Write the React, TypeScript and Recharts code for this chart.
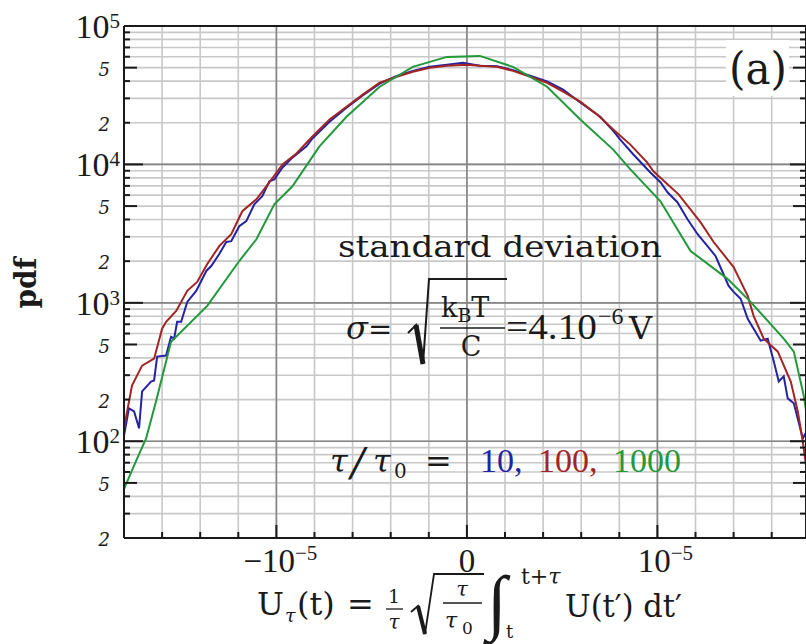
import { LineChart, Line, XAxis, YAxis, CartesianGrid, ReferenceLine } from "recharts";

// pdf of the integrated voltage U_tau for tau/tau0 = 10, 100, 1000
// U in volts, pdf in 1/V

const tau10U = [
  -1.800e-5, -1.774e-5, -1.747e-5, -1.721e-5, -1.705e-5, -1.658e-5, -1.642e-5, -1.626e-5, -1.579e-5,
  -1.553e-5, -1.537e-5, -1.521e-5, -1.500e-5, -1.468e-5, -1.421e-5, -1.368e-5, -1.342e-5, -1.300e-5,
  -1.263e-5, -1.237e-5, -1.195e-5, -1.158e-5, -1.116e-5, -1.074e-5, -1.037e-5, -1.011e-5, -0.968e-5,
  -0.916e-5, -0.842e-5, -0.811e-5, -0.721e-5, -0.632e-5, -0.547e-5, -0.458e-5, -0.368e-5, -0.284e-5,
  -0.195e-5, -0.105e-5, -0.021e-5, 0.068e-5, 0.158e-5, 0.242e-5, 0.332e-5, 0.421e-5, 0.505e-5,
  0.595e-5, 0.700e-5, 0.768e-5, 0.805e-5, 0.874e-5, 0.963e-5, 1.016e-5, 1.053e-5, 1.105e-5,
  1.158e-5, 1.211e-5, 1.263e-5, 1.305e-5, 1.342e-5, 1.374e-5, 1.400e-5, 1.437e-5, 1.474e-5,
  1.505e-5, 1.542e-5, 1.579e-5, 1.611e-5, 1.637e-5, 1.663e-5, 1.684e-5, 1.716e-5, 1.763e-5, 1.784e-5,
];
const tau10Pdf = [
  110, 173, 164, 124, 229, 270, 275, 409, 416,
  569, 551, 730, 730, 1016, 1220, 1700, 1845, 2250,
  2750, 2790, 3580, 3890, 5150, 5890, 7550, 7800, 9510,
  11200, 13500, 15400, 20300, 25700, 31500, 38300, 43600, 47400,
  50800, 52400, 54200, 51600, 51200, 48000, 43700, 39800, 34700,
  28000, 22100, 17500, 15100, 11800, 8750, 7430, 6290, 5330,
  4020, 3130, 2570, 2180, 1670, 1325, 1200, 1070, 767,
  650, 533, 551, 377, 270, 294, 204, 188, 105, 118,
];

const tau100U = [
  -1.805e-5, -1.758e-5, -1.705e-5, -1.642e-5, -1.600e-5, -1.579e-5, -1.526e-5, -1.468e-5, -1.416e-5,
  -1.363e-5, -1.300e-5, -1.237e-5, -1.179e-5, -1.105e-5, -1.037e-5, -0.968e-5, -0.895e-5, -0.811e-5,
  -0.721e-5, -0.632e-5, -0.547e-5, -0.458e-5, -0.368e-5, -0.284e-5, -0.195e-5, -0.105e-5, 0,
  0.068e-5, 0.158e-5, 0.242e-5, 0.332e-5, 0.421e-5, 0.505e-5, 0.595e-5, 0.684e-5, 0.768e-5,
  0.858e-5, 0.947e-5, 0.979e-5, 1.111e-5, 1.226e-5, 1.295e-5, 1.400e-5, 1.474e-5, 1.505e-5,
  1.558e-5, 1.632e-5, 1.700e-5, 1.737e-5, 1.763e-5, 1.784e-5,
];
const tau100Pdf = [
  114, 253, 352, 395, 650, 730, 875, 1220, 1415,
  1910, 2570, 3130, 4590, 5600, 7430, 10000, 12000, 15900,
  21100, 26100, 31900, 38900, 43000, 46700, 49900, 51600, 52400,
  51600, 50700, 47400, 43000, 38900, 33500, 28400, 22900, 17900,
  13900, 10300, 8910, 6080, 3830, 2750, 1815, 1122, 805,
  551, 444, 270, 164, 100, 61,
];

const tau1000U = [
  -1.805e-5, -1.737e-5, -1.684e-5, -1.632e-5, -1.553e-5, -1.363e-5, -1.195e-5, -1.105e-5, -1.011e-5,
  -0.916e-5, -0.774e-5, -0.632e-5, -0.458e-5, -0.284e-5, -0.105e-5, 0.068e-5, 0.242e-5, 0.421e-5,
  0.595e-5, 0.768e-5, 0.858e-5, 1.016e-5, 1.174e-5, 1.368e-5, 1.489e-5, 1.663e-5, 1.716e-5,
  1.768e-5, 1.784e-5,
];
const tau1000Pdf = [
  43.6, 71.8, 105, 194, 524, 951, 2005, 2880, 5150,
  6950, 13500, 22100, 36400, 50700, 59800, 60800, 50700, 36400,
  21100, 12800, 9200, 5420, 2370, 1490, 1016, 551, 444,
  214, 154,
];

const uTicks = [
  -16e-6, -14e-6, -12e-6, -10e-6, -8e-6, -6e-6, -4e-6, -2e-6, 0,
  2e-6, 4e-6, 6e-6, 8e-6, 10e-6, 12e-6, 14e-6, 16e-6,
];
const uMajor = [-10e-6, 0, 10e-6];
const uMajorText = [["−10", "−5"], ["0", ""], ["10", "−5"]];

const pdfTicks = [
  20, 30, 40, 50, 60, 70, 80, 90,
  100, 200, 300, 400, 500, 600, 700, 800, 900,
  1000, 2000, 3000, 4000, 5000, 6000, 7000, 8000, 9000,
  10000, 20000, 30000, 40000, 50000, 60000, 70000, 80000, 90000,
  100000,
];
const pdfDecades = [100, 1000, 10000];

const tau10 = tau10U.map((u, i) => ({ u, pdf: tau10Pdf[i] }));
const tau100 = tau100U.map((u, i) => ({ u, pdf: tau100Pdf[i] }));
const tau1000 = tau1000U.map((u, i) => ({ u, pdf: tau1000Pdf[i] }));

const ink = "#1a1a1a";
const serif = '"DejaVu Serif", serif';
const numFont = '"Liberation Serif", serif';
const blue = "#2323a3";
const red = "#a32424";
const green = "#22993a";

function PdfTick(props: any) {
  const { x, y, payload, side } = props;
  const v = payload.value as number;
  const exp = Math.floor(Math.log10(v) + 1e-9);
  const m = Math.round(v / 10 ** exp);
  const decade = m === 1;
  const dir = side === "left" ? 1 : -1;
  const len = decade ? (side === "left" ? 19 : 16) : m === 5 ? 13 : 6;
  return (
    <g>
      <line x1={x} x2={x + dir * len} y1={y} y2={y} stroke={ink} strokeWidth={2} />
      {side === "left" && decade && (
        <text x={x - 4} y={y + 12} textAnchor="end" fontFamily={numFont} fontSize={34} fill={ink}>
          10<tspan fontSize={21} dy={-10}>{exp}</tspan>
        </text>
      )}
      {side === "left" && (m === 2 || m === 5) && (
        <text x={x - 14} y={y + 8} textAnchor="end" fontFamily={serif} fontStyle="italic" fontSize={18} fill={ink}>
          {m}
        </text>
      )}
    </g>
  );
}

function UTick(props: any) {
  const { x, y, payload, side } = props;
  const v = payload.value as number;
  const k = uMajor.findIndex((m) => Math.abs(m - v) < 1e-9);
  const dir = side === "top" ? 1 : -1;
  const len = k >= 0 ? 13 : 6;
  const [main, sup] = k >= 0 ? uMajorText[k] : ["", ""];
  const shift = v < 0 ? 4 : v > 0 ? 8 : 0;
  return (
    <g>
      <line x1={x} x2={x} y1={y} y2={y + dir * len} stroke={ink} strokeWidth={2} />
      {side === "bottom" && k >= 0 && (
        <text x={x + shift} y={y + 34} textAnchor="middle" fontFamily={numFont} fontSize={33} fill={ink}>
          {main}
          {sup && <tspan fontSize={21} dy={-12}>{sup}</tspan>}
        </text>
      )}
    </g>
  );
}

export default function App() {
  return (
    <div style={{ position: "absolute", left: 0, top: 0, width: 806, height: 644, overflow: "hidden", background: "#fff" }}>
      <LineChart width={820} height={644} margin={{ top: 25, right: 13, bottom: 105, left: 123 }}>
        <CartesianGrid stroke="#c8c8c8" strokeWidth={1.6} />
        <XAxis
          dataKey="u"
          type="number"
          domain={[-1.8e-5, 1.78e-5]}
          allowDataOverflow
          ticks={uTicks}
          interval={0}
          height={1}
          tickSize={0}
          tickMargin={0}
          tickLine={false}
          axisLine={{ stroke: ink, strokeWidth: 2 }}
          tick={(p: any) => <UTick {...p} side="bottom" />}
        />
        <XAxis
          xAxisId="top"
          orientation="top"
          type="number"
          domain={[-1.8e-5, 1.78e-5]}
          allowDataOverflow
          ticks={uTicks}
          interval={0}
          height={1}
          tickSize={0}
          tickMargin={0}
          tickLine={false}
          axisLine={{ stroke: ink, strokeWidth: 2 }}
          tick={(p: any) => <UTick {...p} side="top" />}
        />
        <YAxis
          type="number"
          scale="log"
          domain={[20, 100000]}
          allowDataOverflow
          ticks={pdfTicks}
          interval={0}
          width={1}
          tickSize={0}
          tickMargin={0}
          tickLine={false}
          axisLine={{ stroke: ink, strokeWidth: 2 }}
          tick={(p: any) => <PdfTick {...p} side="left" />}
        />
        <YAxis
          yAxisId="right"
          orientation="right"
          type="number"
          scale="log"
          domain={[20, 100000]}
          allowDataOverflow
          ticks={pdfTicks}
          interval={0}
          width={1}
          tickSize={0}
          tickMargin={0}
          tickLine={false}
          axisLine={{ stroke: ink, strokeWidth: 2 }}
          tick={(p: any) => <PdfTick {...p} side="right" />}
        />
        {pdfDecades.map((d) => (
          <ReferenceLine key={d} y={d} stroke="#858585" strokeWidth={1.6} />
        ))}
        {uMajor.map((u) => (
          <ReferenceLine key={u} x={u} stroke="#858585" strokeWidth={1.6} />
        ))}
        <Line data={tau10} dataKey="pdf" type="linear" stroke={blue} strokeWidth={2} dot={false} isAnimationActive={false} />
        <Line data={tau100} dataKey="pdf" type="linear" stroke={red} strokeWidth={2} dot={false} isAnimationActive={false} />
        <Line data={tau1000} dataKey="pdf" type="linear" stroke={green} strokeWidth={2} dot={false} isAnimationActive={false} />
      </LineChart>

      <svg width={806} height={644} style={{ position: "absolute", left: 0, top: 0, pointerEvents: "none" }}>
        <g fill={ink} fontFamily={serif}>
          <rect x={726} y={40} width={63} height={56} fill="#fff" />
          <text x={729} y={84} fontSize={44} textLength={58} lengthAdjust="spacingAndGlyphs">(a)</text>

          <text transform="translate(36,283) rotate(-90)" textAnchor="middle" fontSize={30} fontWeight="bold" textLength={51} lengthAdjust="spacingAndGlyphs">pdf</text>

          <text x={338} y={257} fontSize={30} textLength={324} lengthAdjust="spacingAndGlyphs">standard deviation</text>

          {/* sigma = sqrt(kB T / C) = 4.10^-6 V */}
          <text x={346} y={339} fontSize={32} fontStyle="italic">σ</text>
          <text x={368} y={339} fontSize={29}>=</text>
          <path d="M408 333 L416 325 L423 364 L429 279 L507 279" fill="none" stroke={ink} strokeWidth={2} />
          <line x1={416} y1={325} x2={423} y2={364} stroke={ink} strokeWidth={5} />
          <text x={441} y={317} fontSize={27}>
            k<tspan fontSize={19} dy={5}>B</tspan><tspan dy={-5}>T</tspan>
          </text>
          <line x1={440} x2={505} y1={328} y2={328} stroke={ink} strokeWidth={1.5} />
          <text x={471} y={356} textAnchor="middle" fontSize={27}>C</text>
          <text x={506} y={339} fontSize={36} fontFamily={numFont} textLength={91} lengthAdjust="spacingAndGlyphs">=4.10</text>
          <text x={598} y={324} fontSize={24} fontFamily={numFont}>−6</text>
          <text x={629} y={339} fontSize={32}>V</text>

          {/* tau / tau0 = 10, 100, 1000 */}
          <text x={330} y={472} fontSize={32} fontStyle="italic">τ</text>
          <text x={351} y={476} fontSize={40} fontStyle="italic">/</text>
          <text x={373} y={472} fontSize={32} fontStyle="italic">τ</text>
          <text x={394} y={478} fontSize={20}>0</text>
          <text x={425} y={472} fontSize={32}>=</text>
          <text x={480} y={472} fontSize={34} fontFamily={numFont} fill={blue}>10,</text>
          <text x={538} y={472} fontSize={34} fontFamily={numFont} fill={red}>100,</text>
          <text x={613} y={472} fontSize={34} fontFamily={numFont} fill={green}>1000</text>

          {/* U_tau(t) = 1/tau sqrt(tau/tau0) int_t^{t+tau} U(t') dt' */}
          <text x={257} y={615} fontSize={32}>U</text>
          <text x={285} y={622} fontSize={19} fontStyle="italic">τ</text>
          <text x={297} y={615} fontSize={32}>(t)</text>
          <text x={347} y={615} fontSize={32}>=</text>
          <text x={394} y={603} fontSize={19} textAnchor="middle">1</text>
          <line x1={386} x2={403} y1={609} y2={609} stroke={ink} strokeWidth={1.3} />
          <text x={394} y={629} fontSize={20} fontStyle="italic" textAnchor="middle">τ</text>
          <path d="M411 612 L418 606 L425 634 L434 574 L484 574" fill="none" stroke={ink} strokeWidth={1.8} />
          <line x1={418} y1={606} x2={425} y2={634} stroke={ink} strokeWidth={4} />
          <text x={462} y={596} fontSize={21} fontStyle="italic" textAnchor="middle">τ</text>
          <line x1={443} x2={482} y1={603} y2={603} stroke={ink} strokeWidth={1.3} />
          <text x={445} y={628} fontSize={22} fontStyle="italic">τ</text>
          <text x={462} y={634} fontSize={17}>0</text>
          <text x={487} y={626} fontSize={72} fontFamily={numFont} fontStyle="italic">∫</text>
          <text x={521} y={584} fontSize={22}>
            t+<tspan fontStyle="italic">τ</tspan>
          </text>
          <text x={506} y={638} fontSize={18}>t</text>
          <text x={565} y={617} fontSize={32} textLength={117} lengthAdjust="spacingAndGlyphs">U(t′) dt′</text>
        </g>
      </svg>
    </div>
  );
}
